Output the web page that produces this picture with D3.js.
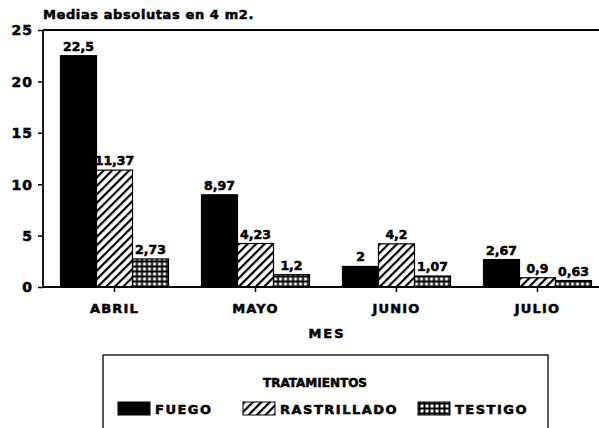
<!DOCTYPE html>
<html>
<head>
<meta charset="utf-8">
<script src="https://cdn.jsdelivr.net/npm/d3@7"></script>
<style>
  body { margin: 0; background: #fff; }
  text { font-family: "DejaVu Sans", sans-serif; font-weight: bold; fill: #000; stroke: #000; stroke-width: 0.55px; }
</style>
</head>
<body>
<svg id="chart" width="599" height="428"></svg>
<script>
// months on the x axis
var months = ["ABRIL", "MAYO", "JUNIO", "JULIO"];
// treatments (series)
var series = ["FUEGO", "RASTRILLADO", "TESTIGO"];
var fuego = [22.5, 8.97, 2, 2.67];
var rastrillado = [11.37, 4.23, 4.2, 0.9];
var testigo = [2.73, 1.2, 1.07, 0.63];
var labels = {
  FUEGO: ["22,5", "8,97", "2", "2,67"],
  RASTRILLADO: ["11,37", "4,23", "4,2", "0,9"],
  TESTIGO: ["2,73", "1,2", "1,07", "0,63"]
};
var yTicks = [0, 5, 10, 15, 20, 25];

var values = { FUEGO: fuego, RASTRILLADO: rastrillado, TESTIGO: testigo };

var svg = d3.select("#chart");

// patterns
var defs = svg.append("defs");
var hatch = defs.append("pattern")
  .attr("id", "hatch")
  .attr("patternUnits", "userSpaceOnUse")
  .attr("width", 6).attr("height", 6)
  .attr("patternTransform", "rotate(45)");
hatch.append("rect").attr("width", 6).attr("height", 6).attr("fill", "#fff");
hatch.append("rect").attr("x", 0).attr("width", 2.2).attr("height", 6).attr("fill", "#000");

var grid = defs.append("pattern")
  .attr("id", "grid")
  .attr("patternUnits", "userSpaceOnUse")
  .attr("width", 5).attr("height", 5)
  .attr("x", 1).attr("y", 1);
grid.append("rect").attr("width", 5).attr("height", 5).attr("fill", "#000");
grid.append("rect").attr("x", 1.5).attr("y", 1.5).attr("width", 3).attr("height", 3).attr("fill", "#fff");

var fills = { FUEGO: "#000", RASTRILLADO: "url(#hatch)", TESTIGO: "url(#grid)" };

var x = d3.scaleBand().domain(months).range([44, 608]).paddingInner(0.234).paddingOuter(0.117);
var xs = d3.scaleBand().domain(series).range([0, x.bandwidth()]);
var y = d3.scaleLinear().domain([0, 25]).range([287, 30]);

// title
svg.append("text").attr("x", 43).attr("y", 19).style("font-size", "13px")
  .style("letter-spacing", "0.6px")
  .text("Medias absolutas en 4 m2.");

// bars
var groups = svg.selectAll(".grp").data(months).enter().append("g")
  .attr("transform", function(d) { return "translate(" + x(d) + ",0)"; });

groups.selectAll("rect").data(function(m, i) {
    return series.map(function(s) { return { s: s, v: values[s][i], l: labels[s][i] }; });
  }).enter().append("rect")
  .attr("x", function(d) { return xs(d.s); })
  .attr("y", function(d) { return y(d.v); })
  .attr("width", xs.bandwidth())
  .attr("height", function(d) { return y(0) - y(d.v); })
  .attr("fill", function(d) { return fills[d.s]; })
  .attr("stroke", "#000").attr("stroke-width", 1.2);

groups.selectAll(".val").data(function(m, i) {
    return series.map(function(s) { return { s: s, v: values[s][i], l: labels[s][i] }; });
  }).enter().append("text")
  .attr("x", function(d) { return xs(d.s) + xs.bandwidth() / 2; })
  .attr("y", function(d) { return y(d.v) - 5; })
  .attr("text-anchor", "middle").style("font-size", "12.5px")
  .text(function(d) { return d.l; });

// axes
var yAxis = svg.append("g").attr("transform", "translate(43,0)")
  .call(d3.axisLeft(y).tickValues(yTicks).tickSize(5).tickFormat(d3.format("d")));
yAxis.select(".domain").remove();
yAxis.selectAll("line").attr("stroke", "#000").attr("stroke-width", 1.5);
yAxis.selectAll("text").style("font-size", "14px").style("letter-spacing", "1px")
  .attr("x", -10).attr("dy", "0.35em");

svg.append("line").attr("x1", 43).attr("x2", 43).attr("y1", y(25)).attr("y2", y(0))
  .attr("stroke", "#000").attr("stroke-width", 1.8);
svg.append("line").attr("x1", 43).attr("x2", 599).attr("y1", y(25)).attr("y2", y(25))
  .attr("stroke", "#000").attr("stroke-width", 1.8);

var xAxis = svg.append("g").attr("transform", "translate(0," + y(0) + ")")
  .call(d3.axisBottom(x).tickSize(5));
xAxis.select(".domain").remove();
xAxis.selectAll("line").attr("stroke", "#000").attr("stroke-width", 1.5);
xAxis.selectAll("text").style("font-size", "13px").style("letter-spacing", "1.2px")
  .attr("y", 17).attr("dy", "0.71em");
svg.append("line").attr("x1", 43).attr("x2", 599).attr("y1", y(0)).attr("y2", y(0))
  .attr("stroke", "#000").attr("stroke-width", 1.8);

svg.append("text").attr("x", 327).attr("y", 338).attr("text-anchor", "middle")
  .style("font-size", "13px").style("letter-spacing", "2px").text("MES");

// legend
svg.append("rect").attr("x", 103).attr("y", 355).attr("width", 445).attr("height", 90)
  .attr("fill", "none").attr("stroke", "#000").attr("stroke-width", 1.3);
svg.append("text").attr("x", 315).attr("y", 387).attr("text-anchor", "middle")
  .style("font-size", "12px").text("TRATAMIENTOS");

var legX = [118, 243, 418];
var leg = svg.selectAll(".leg").data(series).enter().append("g")
  .attr("transform", function(d, i) { return "translate(" + legX[i] + ",402)"; });
leg.append("rect").attr("width", 32).attr("height", 13)
  .attr("fill", function(d) { return fills[d]; })
  .attr("stroke", "#000").attr("stroke-width", 1);
leg.append("text").attr("x", 37).attr("y", 12).style("font-size", "13px")
  .style("letter-spacing", "1.5px")
  .text(function(d) { return d; });
</script>
</body>
</html>
